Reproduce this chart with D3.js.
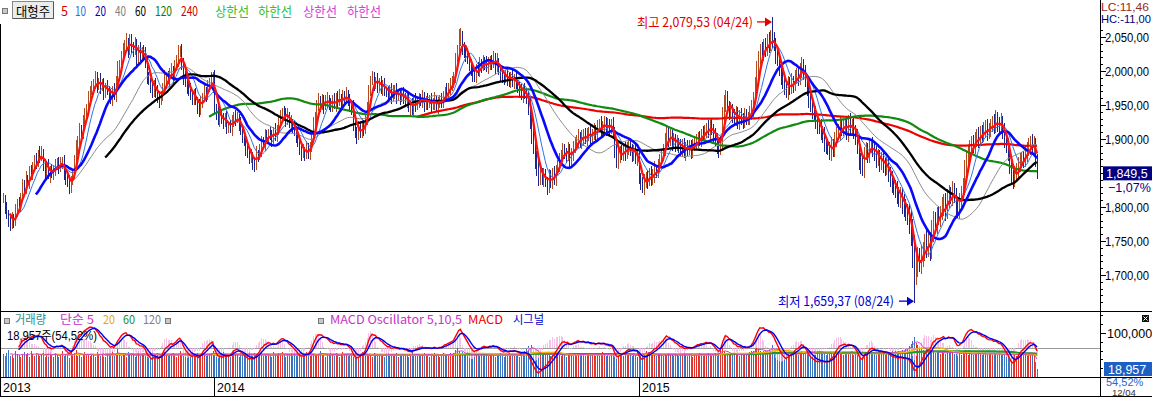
<!DOCTYPE html>
<html><head><meta charset="utf-8">
<script src="https://cdn.jsdelivr.net/npm/d3@7"></script>
<style>
body{margin:0;background:#fff;overflow:hidden;}
svg{display:block;font-family:"Noto Sans CJK KR","Liberation Sans",sans-serif;}
</style></head><body>
<svg id="c" width="1152" height="397"></svg>
<script>
// ---------- data (daily, Jul 2013 .. 12/04/2015) ----------
const closes = [
1812,1798,1790,1781,1772,1785,1779,1794,1806,1801,
1815,1832,1826,1841,1838,1852,1847,1861,1870,1866,
1878,1874,1881,1862,1853,1858,1846,1855,1849,1856,
1861,1866,1858,1864,1868,1851,1842,1836,1829,1838,
1850,1869,1886,1898,1914,1906,1925,1938,1947,1959,
1971,1976,1982,1990,1979,1985,1975,1981,1968,1977,
1972,1966,1960,1973,1963,1985,2003,2010,2022,2031,
2038,2044,2030,2046,2036,2028,2040,2019,2033,2022,
2030,2024,2012,1990,1985,1978,1969,1981,1972,1962,
1958,1966,1975,1989,1990,1988,1998,2003,1992,2008,
2015,2026,2031,2012,1990,1985,1978,1972,1965,1960,
1966,1957,1949,1941,1955,1962,1970,1966,1978,1985,
1988,1992,1944,1938,1930,1935,1928,1924,1932,1918,
1920,1915,1926,1934,1930,1932,1921,1912,1904,1898,
1886,1880,1872,1876,1866,1862,1878,1875,1884,1897,
1893,1905,1901,1910,1906,1899,1912,1905,1913,1926,
1935,1940,1938,1929,1934,1922,1925,1918,1912,1904,
1895,1886,1880,1883,1878,1886,1880,1889,1902,1924,
1935,1948,1956,1950,1958,1949,1955,1960,1952,1947,
1958,1950,1962,1955,1961,1956,1963,1958,1966,1957,
1950,1945,1920,1912,1905,1916,1910,1922,1915,1928,
1948,1972,1985,1990,1982,1986,1978,1984,1975,1980,
1972,1970,1966,1974,1962,1968,1972,1964,1966,1960,
1968,1962,1955,1958,1946,1950,1944,1958,1952,1956,
1960,1955,1962,1950,1958,1952,1957,1949,1954,1960,
1948,1952,1958,1955,1963,1970,1968,1975,1980,1985,
1990,2015,2030,2048,2052,2033,2028,2025,2018,2010,
2002,1995,1992,2005,2000,2010,2008,2015,2012,2006,
2010,2016,2012,2020,2008,2014,2002,1996,1992,1990,
1995,1988,1986,1992,1984,1990,1980,1976,1972,1965,
1972,1968,1962,1950,1930,1910,1892,1872,1858,1845,
1850,1842,1848,1838,1832,1845,1838,1850,1842,1856,
1862,1870,1878,1885,1882,1876,1884,1870,1878,1890,
1893,1898,1905,1896,1902,1908,1900,1906,1912,1904,
1908,1914,1906,1918,1922,1915,1920,1925,1914,1920,
1916,1922,1910,1880,1870,1875,1882,1878,1886,1880,
1888,1890,1883,1878,1885,1872,1876,1842,1835,1830,
1838,1845,1840,1850,1842,1848,1856,1852,1862,1870,
1878,1884,1902,1910,1898,1905,1895,1900,1892,1896,
1890,1884,1892,1880,1888,1885,1890,1882,1890,1894,
1898,1902,1900,1908,1906,1912,1918,1910,1920,1915,
1905,1900,1890,1886,1895,1935,1950,1962,1948,1940,
1944,1936,1930,1938,1925,1935,1930,1926,1935,1930,
1932,1938,1945,1960,1980,2000,2018,2030,2025,2038,
2032,2045,2038,2050,2046,2040,2025,2018,2005,1992,
1985,1978,1970,1982,1975,1985,1980,1992,1996,1990,
2002,2008,1998,1985,1975,1960,1950,1942,1938,1925,
1920,1918,1910,1905,1895,1890,1886,1880,1892,1884,
1900,1908,1912,1920,1915,1918,1922,1910,1926,1918,
1920,1912,1905,1890,1870,1862,1858,1880,1885,1876,
1890,1892,1886,1878,1870,1876,1865,1870,1862,1858,
1862,1850,1842,1835,1830,1826,1820,1812,1818,1805,
1800,1795,1788,1778,1762,1735,1708,1715,1725,1720,
1728,1735,1748,1742,1750,1738,1765,1780,1775,1790,
1785,1792,1800,1808,1795,1812,1820,1815,1825,1818,
1800,1795,1810,1822,1830,1855,1870,1880,1888,1895,
1890,1898,1905,1900,1910,1906,1912,1918,1910,1915,
1920,1925,1918,1928,1922,1918,1925,1912,1900,1890,
1878,1860,1845,1840,1848,1855,1862,1868,1872,1870,
1878,1885,1890,1895,1888,1892,1869.5,1849.5];

const upperWick = [
8,6,10,5,9,7,4,11,6,8, 5,9,7,12,6,8,10,5,7,9, 6,11,8,5,9,7,12,6,8,5, 9,6,7,10,5,8,6,9,11,7,
5,8,12,7,9,6,10,8,5,11, 7,9,6,10,8,5,12,7,9,6, 10,6,8,5,9,7,11,6,8,10, 7,12,5,9,8,6,10,7,5,9,
6,8,11,7,9,5,10,6,8,7, 9,5,8,12,6,10,7,9,5,8, 8,12,6,9,7,10,5,8,11,6, 7,9,5,10,8,6,12,7,9,5,
10,6,9,7,11,5,8,10,6,9, 5,8,10,6,9,7,5,11,8,6, 9,7,6,10,5,8,12,6,9,7, 6,10,8,5,9,7,6,11,8,10,
8,5,9,7,12,6,10,5,8,7, 10,7,6,9,5,11,8,6,10,9, 5,9,11,7,8,6,10,9,5,8, 7,10,6,8,12,5,9,7,10,6,
9,6,12,8,5,10,7,9,6,11, 6,8,7,10,9,5,11,6,8,7, 10,5,8,6,9,12,7,10,5,8, 7,9,6,11,8,6,10,5,9,7,
8,6,10,7,5,9,8,11,6,9, 5,10,7,9,8,6,12,7,10,8, 9,12,8,14,11,7,10,6,9,8, 7,9,10,6,8,11,7,9,6,10,
10,6,8,9,7,12,5,8,10,6, 6,8,11,7,9,5,10,7,8,9, 8,10,7,9,12,10,8,14,10,9, 9,7,10,8,6,11,9,7,10,6,
7,10,6,9,8,5,12,8,9,7, 10,8,9,6,11,7,8,10,6,9, 6,9,7,10,8,12,6,9,7,11, 9,7,11,8,14,10,8,9,7,10,
7,10,8,9,6,11,7,10,8,9, 10,6,9,7,10,8,11,6,9,8, 8,9,7,11,6,10,8,9,7,10, 6,10,8,9,7,11,9,8,10,7,
9,8,10,7,11,9,6,10,8,9, 7,11,9,8,10,12,14,10,9,8, 10,7,8,11,9,7,10,8,11,9, 8,10,12,9,11,14,12,10,13,9,
11,9,12,10,29.53,12,9,11,10,8, 9,11,8,10,9,12,8,10,9,11, 10,12,9,11,8,10,9,12,8,10, 8,10,11,9,12,8,10,9,11,8,
11,9,10,12,9,11,8,10,9,12, 9,12,8,10,11,9,12,8,10,9, 10,8,11,9,12,10,8,11,9,10, 12,10,9,11,8,10,12,9,11,10,
14,12,10,16,18,20,24,18,16,14, 16,14,12,18,15,13,16,14,12,10, 12,10,14,11,13,15,12,10,13,11, 10,12,11,9,13,14,12,10,11,9,
11,13,10,12,9,11,13,10,12,9, 10,9,12,14,11,10,13,9,11,10, 12,10,11,9,13,10,12,11,9,10, 11,10,12,9,13,12,10,8];

const lowerWick = [
6,9,7,11,8,5,10,7,9,6, 8,5,10,7,9,11,6,8,5,10, 7,10,6,9,12,8,5,10,7,9, 10,7,9,6,8,12,9,7,10,8,
6,9,8,10,7,11,6,9,8,5, 9,6,10,8,12,7,9,5,11,8, 7,10,8,12,6,9,7,10,5,8, 9,6,11,7,10,8,5,12,9,7,
8,10,7,9,6,11,8,7,12,9, 12,8,10,6,9,7,11,8,10,6, 7,9,6,11,10,8,12,9,7,10, 10,7,12,8,6,9,7,11,8,9,
8,11,7,10,9,12,6,9,7,10, 9,6,10,8,11,7,9,6,10,8, 11,8,9,7,12,10,8,9,6,11, 8,10,6,9,7,11,10,8,9,7,
10,7,9,11,8,6,12,9,7,10, 7,9,12,8,10,7,9,11,8,6, 9,11,7,10,8,12,6,9,10,8, 8,6,10,9,7,11,8,10,6,9,
11,9,8,10,12,7,9,8,10,7, 7,10,9,6,11,8,10,7,9,12, 9,8,11,7,10,6,9,12,8,10, 6,10,8,9,7,11,8,10,12,9,
10,7,9,11,8,10,6,9,7,11, 8,11,7,10,9,7,10,8,11,9, 10,8,12,9,11,10,9,12,8,10, 9,11,8,10,7,9,11,8,10,7,
11,8,10,7,12,9,8,10,9,11, 8,10,9,11,8,10,7,9,11,8, 12,9,11,14,16,18,14,16,12,14, 13,10,12,9,14,11,10,12,9,11,
9,11,10,8,12,10,9,11,8,10, 10,8,11,9,10,12,8,10,9,11, 8,10,9,11,8,10,12,9,10,8, 11,9,10,8,12,14,10,9,11,12,
9,11,8,12,10,9,11,8,10,9, 12,10,14,9,11,10,12,9,10,11, 8,10,9,11,10,8,12,9,11,10, 10,9,11,8,12,10,9,11,10,8,
9,11,10,12,9,11,10,8,12,9, 11,10,12,14,10,9,11,10,9,12, 10,12,9,11,10,12,9,11,10,9, 9,11,10,12,9,10,11,9,12,10,
12,10,11,9,12,10,14,11,12,13, 11,13,10,12,11,9,12,10,11,12, 10,12,11,9,12,14,11,12,10,11, 12,10,12,11,14,12,10,11,12,10,
11,12,10,13,11,10,12,11,14,10, 10,12,14,12,16,14,12,15,11,12, 12,10,13,11,12,10,14,11,12,13, 11,13,12,14,12,13,15,12,14,16,
14,16,15,18,20,24,48.63,22,18,16, 18,16,14,17,15,18,14,16,13,15, 12,14,11,13,15,12,14,11,13,12, 13,11,12,14,10,12,11,13,10,12,
11,12,10,13,11,12,10,11,13,10, 12,10,11,9,12,11,10,12,13,11, 10,12,11,13,10,11,12,10,11,12, 11,12,10,13,11,12,10,9];

// volume in thousand shares
const volumesK = [
52,48,55,61,47,50,44,58,53,49, 46,51,57,49,54,45,60,52,48,55, 50,47,53,58,45,51,49,56,52,46, 54,49,45,52,58,47,53,50,44,57,
51,55,62,48,53,46,50,57,49,52, 47,53,50,45,56,52,48,54,51,46, 55,49,52,58,47,51,64,53,48,50, 52,46,57,50,54,49,45,53,58,47,
50,55,48,53,46,52,57,49,51,54, 48,52,45,56,50,47,53,49,55,51, 46,53,58,50,47,54,49,52,45,56, 51,48,54,46,52,57,50,47,53,49,
55,60,52,49,54,47,51,56,48,53, 50,46,53,58,49,52,45,54,51,47, 53,49,56,51,47,54,50,46,52,57, 48,52,47,53,50,45,56,51,49,54,
51,57,49,46,53,50,55,48,52,47, 54,50,46,52,49,56,51,47,53,50, 47,53,51,58,55,50,46,52,49,54, 52,48,54,50,46,53,57,49,51,48,
50,55,47,53,49,45,52,56,50,47, 53,49,51,46,54,50,47,53,48,52, 46,51,55,49,52,47,50,54,46,51, 49,53,48,52,45,51,56,49,53,47,
52,47,50,55,49,53,46,51,48,54, 48,52,46,50,54,49,52,47,55,50, 55,62,68,58,52,57,53,50,56,51, 50,46,52,49,55,48,51,47,53,49,
47,53,49,51,46,52,48,54,50,46, 52,49,55,48,51,47,53,50,46,52, 54,58,63,70,66,72,60,57,55,52, 53,50,56,49,52,55,48,51,54,50,
49,53,47,52,50,46,54,49,51,48, 52,48,51,55,49,53,47,50,52,49, 50,54,48,51,47,52,56,50,48,53, 47,51,55,49,52,58,53,50,47,51,
53,49,52,48,54,50,46,52,49,55, 55,60,52,57,50,54,51,48,53,50, 51,47,53,50,55,49,52,48,54,50, 48,52,49,54,51,47,53,50,46,52,
52,49,55,51,47,53,50,54,49,51, 50,54,48,56,62,66,58,54,52,55, 53,50,55,49,52,48,54,51,50,53, 52,56,60,58,63,68,64,59,57,60,
62,58,65,60,72,63,58,61,57,54, 55,52,57,53,50,54,51,56,52,49, 54,58,52,55,60,57,53,56,51,54, 52,55,53,57,54,50,55,52,56,53,
50,53,56,52,55,51,54,57,52,55, 53,50,54,51,56,53,50,55,52,54, 55,52,57,54,51,56,53,58,54,51, 54,57,53,58,55,60,56,59,57,62,
60,63,66,70,76,82,90,78,72,68, 66,62,60,64,58,62,57,60,55,58, 56,53,58,55,52,57,54,60,56,53, 52,56,54,51,57,53,55,50,54,52,
50,54,52,56,53,49,55,52,50,54, 53,51,55,52,49,54,51,53,50,52, 49,53,50,55,52,48,54,51,49,52, 50,47,52,49,53,48,34.77,18.957];

const maPeriods = [240, 120, 40, 10, 60, 20, 5];
const maColors  = ["#ee0000", "#108a10", "#8a8a8a", "#2f72e6", "#000000", "#0808ff", "#ff1010"];
const maWidths  = [2.2, 2.2, 1, 1, 2.3, 2.6, 2.3];
const volMaPeriods = [120, 60, 20, 5];
const volMaColors  = ["#9a9a9a", "#1f9a2a", "#f0b400", "#d23cd2"];
const yearLabels = ["2013", "2014", "2015"];
const yearStartIdx = [0, 122, 367];
const priceTicks = [1700, 1750, 1800, 1900, 1950, 2000, 2050];
const highIdx = 444, lowIdx = 526;
const highLabel = "최고 2,079,53 (04/24)";
const lowLabel = "최저 1,659,37 (08/24)";
const lastDateLabel = "12/04";

// ---------- derived ----------
const N = closes.length;
const bars = closes.map((c, i) => {
  const o = i ? closes[i - 1] : c;
  return { i, o, c, h: Math.max(o, c) + upperWick[i], l: Math.min(o, c) - lowerWick[i], v: volumesK[i] * 1000 };
});
function sma(a, n) { const r = new Array(a.length).fill(null); let s = 0;
  for (let i = 0; i < a.length; i++) { s += a[i]; if (i >= n) s -= a[i - n]; if (i >= n - 1) r[i] = s / n; } return r; }
function ema(a, n) { const k = 2 / (n + 1); const r = []; a.forEach((v, i) => r.push(i ? v * k + r[i - 1] * (1 - k) : v)); return r; }
const e5 = ema(closes, 5), e10 = ema(closes, 10);
const macd = closes.map((c, i) => e5[i] - e10[i]);
const signal = ema(macd, 5);
const osc = macd.map((m, i) => m - signal[i]);
const vols = bars.map(b => b.v);

// ---------- scales ----------
const svg = d3.select("#c");
const AX = 1100;
const x = d3.scaleLinear().domain([0, N - 1]).range([3, 1037]);
const y = d3.scaleLinear().domain([1700, 2050]).range([275, 37]);
const yV = d3.scaleLinear().domain([0, 100000]).range([377, 333]);
const mMax = d3.max(macd.slice(9), d => Math.abs(d));
const yM = d3.scaleLinear().domain([-mMax, mMax]).range([373, 322]);
const px = i => Math.round(x(i)) + 0.5;

svg.append("defs").append("clipPath").attr("id", "cp").append("rect").attr("x", 1).attr("y", 0).attr("width", AX - 1).attr("height", 311);
svg.select("defs").append("clipPath").attr("id", "cv").append("rect").attr("x", 1).attr("y", 312).attr("width", AX - 1).attr("height", 65);

// ---------- price panel ----------
const gP = svg.append("g").attr("clip-path", "url(#cp)");
gP.append("g").selectAll("line").data(bars).join("line")
  .attr("x1", d => px(d.i)).attr("x2", d => px(d.i))
  .attr("y1", d => y(d.h)).attr("y2", d => y(d.l))
  .attr("stroke", d => d.c >= d.o ? "#b24a1e" : "#1b2590").attr("stroke-width", 1)
  .attr("shape-rendering", "crispEdges");
maPeriods.forEach((p, k) => {
  const ma = sma(closes, p);
  const line = d3.line().defined(d => d != null).x((d, i) => x(i)).y(d => y(d));
  gP.append("path").attr("d", line(ma)).attr("fill", "none")
    .attr("stroke", maColors[k]).attr("stroke-width", maWidths[k]).attr("stroke-linejoin", "round");
});

// annotations
const hb = bars[highIdx], lb = bars[lowIdx];
function arrow(g, x0, x1, yy, col) {
  g.append("line").attr("x1", x0).attr("x2", x1 - 6).attr("y1", yy).attr("y2", yy).attr("stroke", col).attr("stroke-width", 1.3);
  g.append("path").attr("d", `M${x1 - 7},${yy - 4.5}L${x1},${yy}L${x1 - 7},${yy + 4.5}Z`).attr("fill", col);
}
const hx = x(highIdx), hy = y(hb.h);
gP.append("text").attr("x", hx - 19).attr("y", hy + 10).attr("text-anchor", "end")
  .attr("font-size", 13).attr("fill", "#e00000").attr("textLength", 116).attr("lengthAdjust", "spacingAndGlyphs").text(highLabel);
arrow(gP, hx - 15, hx, hy + 5, "#e00000");
const lx = x(lowIdx), ly = y(lb.l);
gP.append("text").attr("x", lx - 20).attr("y", ly + 3).attr("text-anchor", "end")
  .attr("font-size", 13).attr("fill", "#0000d0").attr("textLength", 116).attr("lengthAdjust", "spacingAndGlyphs").text(lowLabel);
arrow(gP, lx - 15, lx, ly - 1.5, "#0000d0");

// ---------- volume / MACD panel ----------
const gV = svg.append("g").attr("clip-path", "url(#cv)");
gV.append("line").attr("x1", 0).attr("x2", AX).attr("y1", Math.round(yM(0)) + 0.5).attr("y2", Math.round(yM(0)) + 0.5)
  .attr("stroke", "#9a9a9a");
gV.append("g").selectAll("line").data(bars).join("line")
  .attr("x1", d => px(d.i)).attr("x2", d => px(d.i))
  .attr("y1", yV(0)).attr("y2", d => yV(d.v))
  .attr("stroke", d => d.c >= d.o ? "#e2302b" : "#3a76c2").attr("shape-rendering", "crispEdges");
gV.append("g").selectAll("line").data(osc.map((o, i) => ({ o, i })).filter(d => d.i >= 9)).join("line")
  .attr("x1", d => px(d.i)).attr("x2", d => px(d.i))
  .attr("y1", yM(0)).attr("y2", d => yM(d.o * 2.2))
  .attr("stroke", "#f3b2e2").attr("stroke-opacity", 0.8).attr("shape-rendering", "crispEdges");
volMaPeriods.forEach((p, k) => {
  const ma = sma(vols, p);
  gV.append("path").attr("d", d3.line().defined(d => d != null).x((d, i) => x(i)).y(d => yV(d))(ma))
    .attr("fill", "none").attr("stroke", volMaColors[k]).attr("stroke-width", p === 60 ? 2 : (p === 20 ? 1.5 : 1));
});
const lineM = d3.line().defined((d, i) => i >= 9).x((d, i) => x(i)).y(d => yM(d));
gV.append("path").attr("d", lineM(macd)).attr("fill", "none").attr("stroke", "#ff0000").attr("stroke-width", 1.4);
gV.append("path").attr("d", lineM(signal)).attr("fill", "none").attr("stroke", "#0000ee").attr("stroke-width", 1.4);

// ---------- frame ----------
const fr = svg.append("g").attr("stroke", "#000").attr("shape-rendering", "crispEdges");
fr.append("line").attr("x1", 0.5).attr("x2", 0.5).attr("y1", 24).attr("y2", 397);
fr.append("line").attr("x1", AX + 0.5).attr("x2", AX + 0.5).attr("y1", 0).attr("y2", 397);
[311.5, 377.5, 396.5].forEach(v => fr.append("line").attr("x1", 0).attr("x2", 1152).attr("y1", v).attr("y2", v));
yearStartIdx.forEach((idx, k) => {
  if (idx > 0) fr.append("line").attr("x1", Math.round(x(idx)) + 0.5).attr("x2", Math.round(x(idx)) + 0.5).attr("y1", 377).attr("y2", 397);
  svg.append("text").attr("x", idx > 0 ? Math.round(x(idx)) + 3 : 3).attr("y", 392)
    .attr("font-family", "Liberation Sans").attr("font-size", 12.5).attr("fill", "#000").text(yearLabels[k]);
});

// ---------- right axes ----------
const ax = svg.append("g").attr("stroke", "#000").attr("shape-rendering", "crispEdges");
d3.range(1660, 2101, 10).forEach(v => {
  const major = v % 50 === 0;
  const yy = Math.round(y(v)) + 0.5;
  if (yy < 28 || yy > 309) return;
  ax.append("line").attr("x1", AX).attr("x2", AX + (major ? 6 : 3)).attr("y1", yy).attr("y2", yy);
});
const fmtP = v => d3.format(",")(v) + ",00";
priceTicks.forEach(v => {
  svg.append("text").attr("x", AX + 5).attr("y", y(v) + 4.5).attr("font-family", "Liberation Sans")
    .attr("font-size", 12).attr("fill", "#000").attr("textLength", 44).attr("lengthAdjust", "spacingAndGlyphs").text(fmtP(v));
});
d3.range(0, 140001, 20000).forEach(v => {
  const yy = Math.round(yV(v)) + 0.5;
  if (yy < 313) return;
  ax.append("line").attr("x1", AX).attr("x2", AX + (v === 100000 ? 6 : 3)).attr("y1", yy).attr("y2", yy);
});
svg.append("text").attr("x", AX + 7).attr("y", yV(100000) + 4.5).attr("font-family", "Liberation Sans")
  .attr("font-size", 12.5).text(d3.format(",")(100000));

// current price box
const last = closes[N - 1], prev = closes[N - 2];
const fmtDec = s => s.replace(".", "#").replace("#", ",");
svg.append("rect").attr("x", 1103).attr("y", y(last) - 7).attr("width", 49).attr("height", 14).attr("fill", "#000080");
svg.append("text").attr("x", 1106).attr("y", y(last) + 5).attr("font-family", "Liberation Sans").attr("font-size", 12.5)
  .attr("fill", "#fff").text(fmtDec(d3.format(",.1f")(last)));
svg.append("text").attr("x", 1108).attr("y", y(last) + 19).attr("font-family", "Liberation Sans").attr("font-size", 12.5)
  .attr("fill", "#000080").text(fmtDec(d3.format(".2f")((last / prev - 1) * 100)) + "%");
svg.append("text").attr("x", 1101).attr("y", 10.5).attr("font-family", "Liberation Sans").attr("font-size", 11.5).attr("fill", "#9a2a1a")
  .attr("textLength", 48).attr("lengthAdjust", "spacingAndGlyphs").text("LC:11,46");
svg.append("text").attr("x", 1101).attr("y", 23).attr("font-family", "Liberation Sans").attr("font-size", 11.5).attr("fill", "#000080")
  .attr("textLength", 50).attr("lengthAdjust", "spacingAndGlyphs").text("HC:-11,00");

// volume box
const lastV = vols[N - 1], prevV = vols[N - 2];
const volTxt = d3.format(",")(Math.round(lastV));
const volPct = fmtDec(d3.format(".2f")(lastV / prevV * 100)) + "%";
svg.append("rect").attr("x", 1104).attr("y", 362).attr("width", 48).attr("height", 14).attr("fill", "#1e5fc6");
svg.append("text").attr("x", 1108).attr("y", 374).attr("font-family", "Liberation Sans").attr("font-size", 12.5).attr("fill", "#fff").text(volTxt);
svg.append("text").attr("x", 1106).attr("y", 385.5).attr("font-family", "Liberation Sans").attr("font-size", 11).attr("fill", "#2a66cc").text(volPct);
svg.append("text").attr("x", 1112).attr("y", 396).attr("font-family", "Liberation Sans").attr("font-size", 9.5).attr("fill", "#333").text(lastDateLabel);
svg.append("rect").attr("x", 1142).attr("y", 315).attr("width", 7).attr("height", 7).attr("fill", "#111");
svg.append("path").attr("d", "M1143.5,316.5L1147.5,320.5M1147.5,316.5L1143.5,320.5").attr("stroke", "#fff").attr("stroke-width", 1);

// ---------- legends ----------
function txt(g, s, x0, y0, col, w, fs) {
  const t = g.append("text").attr("x", x0).attr("y", y0).attr("font-size", fs || 13).attr("fill", col).text(s);
  if (w) t.attr("textLength", w).attr("lengthAdjust", "spacingAndGlyphs");
  return t;
}
const lg = svg.append("g");
lg.append("rect").attr("x", 2.5).attr("y", 8.5).attr("width", 5).attr("height", 5).attr("fill", "#c8c8c8").attr("stroke", "#777");
lg.append("rect").attr("x", 12.5).attr("y", 1.5).attr("width", 41).attr("height", 17).attr("fill", "#ececec").attr("stroke", "#888");
lg.append("path").attr("d", "M13,18.5H53.5V2").attr("fill", "none").attr("stroke", "#555");
txt(lg, "대형주", 16, 15.5, "#000", 34, 13);
const topLegend = [["5", 61, "#e00000", 7], ["10", 75, "#2a6ed8", 11], ["20", 95, "#0000b4", 11], ["40", 115, "#808080", 11],
  ["60", 135, "#000000", 11], ["120", 155, "#0d7d0d", 17], ["240", 181, "#cc0000", 17],
  ["상한선", 215, "#33c033", 34], ["하한선", 258, "#33c033", 34], ["상한선", 303, "#d442d4", 34], ["하한선", 347, "#d442d4", 34]];
topLegend.forEach(d => txt(lg, d[0], d[1], 15.5, d[2], d[3], 13));

lg.append("rect").attr("x", 4.5).attr("y", 318.5).attr("width", 5).attr("height", 5).attr("fill", "#c8c8c8").attr("stroke", "#777");
const botLegend = [["거래량", 15, "#2b8c8c", 31], ["단순 5", 60, "#c832c8", 34], ["20", 103, "#e8a800", 12], ["60", 123, "#209020", 12], ["120", 143, "#808080", 18]];
botLegend.forEach(d => txt(lg, d[0], d[1], 324, d[2], d[3], 12));
lg.append("rect").attr("x", 165.5).attr("y", 318.5).attr("width", 5).attr("height", 5).attr("fill", "#c8c8c8").attr("stroke", "#777");
txt(lg, `${volTxt}주(${volPct})`, 7, 340, "#000", 90, 12).attr("font-family", "Liberation Sans, Noto Sans CJK KR");
lg.append("rect").attr("x", 318.5).attr("y", 318.5).attr("width", 5).attr("height", 5).attr("fill", "#c8c8c8").attr("stroke", "#777");
txt(lg, "MACD Oscillator 5,10,5", 330, 324, "#c832c8", 132, 12);
txt(lg, "MACD", 468, 324, "#ee0000", 35, 12);
txt(lg, "시그널", 513, 324, "#0000c8", 31, 12);
</script>
</body></html>
